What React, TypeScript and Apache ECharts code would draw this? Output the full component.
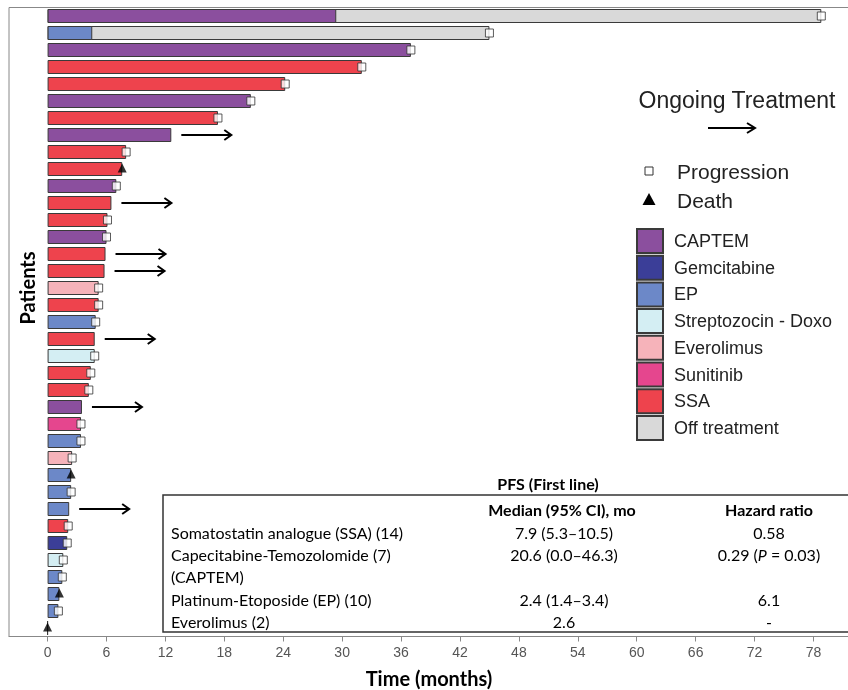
import React, { useEffect, useRef } from "react";
import * as echarts from "echarts";

// ---- data (one entry per patient, top to bottom) ----
const patients = Array.from({ length: 37 }, (_, i) => `P${i + 1}`);
const treatments = [
  "CAPTEM", "EP", "CAPTEM", "SSA", "SSA", "CAPTEM", "SSA", "CAPTEM", "SSA", "SSA",
  "CAPTEM", "SSA", "SSA", "CAPTEM", "SSA", "SSA", "Everolimus", "SSA", "EP", "SSA",
  "Streptozocin - Doxo", "SSA", "SSA", "CAPTEM", "Sunitinib", "EP", "Everolimus", "EP", "EP", "EP",
  "SSA", "Gemcitabine", "Streptozocin - Doxo", "EP", "EP", "EP", "EP",
];
const treatmentEnd = [
  29.4, 4.55, 37.0, 32.0, 24.2, 20.7, 17.35, 12.6, 8.0, 7.6,
  7.0, 6.5, 6.1, 6.0, 5.9, 5.8, 5.2, 5.2, 4.9, 4.8,
  4.8, 4.4, 4.2, 3.5, 3.4, 3.4, 2.5, 2.4, 2.4, 2.2,
  2.1, 2.0, 1.6, 1.5, 1.2, 1.1, 0,
];
const offTreatmentEnd: (number | null)[] = [
  78.8, 45.0, null, null, null, null, null, null, null, null,
  null, null, null, null, null, null, null, null, null, null,
  null, null, null, null, null, null, null, null, null, null,
  null, null, null, null, null, null, null,
];
// P = progression, D = death, O = ongoing treatment
const outcomes = [
  "P", "P", "P", "P", "P", "P", "P", "O", "P", "D",
  "P", "O", "P", "P", "O", "O", "P", "P", "P", "O",
  "P", "P", "P", "O", "P", "P", "P", "D", "P", "O",
  "P", "P", "P", "P", "D", "P", "D",
];
const legendNames = [
  "CAPTEM", "Gemcitabine", "EP", "Streptozocin - Doxo", "Everolimus", "Sunitinib", "SSA", "Off treatment",
];
const legendColors = [
  "#8B4F9E", "#3B3E98", "#6C88C8", "#D4EEF3", "#F6B3BA", "#E5468E", "#EE434D", "#D9D9D9",
];
const tickValues = [0, 6, 12, 18, 24, 30, 36, 42, 48, 54, 60, 66, 72, 78];

const tableTitle = "PFS (First line)";
const tableHeaders = ["Median (95% CI), mo", "Hazard ratio"];
const tableNames = [
  "Somatostatin analogue (SSA) (14)",
  "Capecitabine-Temozolomide (7)\n(CAPTEM)",
  "Platinum-Etoposide (EP) (10)",
  "Everolimus (2)",
];
const tableMedians = ["7.9 (5.3–10.5)", "20.6 (0.0–46.3)", "2.4 (1.4–3.4)", "2.6"];
const tableHazards = ["0.58", "{n|0.29 (}{i|P}{n| = 0.03)}", "6.1", "-"];

const BORDER = "#3a3a3a";
const TXT = "#222";

export default function App() {
  const ref = useRef<HTMLDivElement>(null);
  useEffect(() => {
    if (!ref.current) return;
    const chart = echarts.init(ref.current, null, { renderer: "svg" });

    const eventTime = treatmentEnd.map((v, i) => (offTreatmentEnd[i] != null ? (offTreatmentEnd[i] as number) : v));

    const barCommon = {
      type: "bar",
      barWidth: 14,
      barGap: "-100%",
      itemStyle: { borderColor: BORDER, borderWidth: 1 },
      emphasis: { disabled: true },
    };

    const series: any[] = [];
    series.push({
      ...barCommon,
      name: "Off treatment",
      itemStyle: { ...barCommon.itemStyle, color: legendColors[7] },
      data: offTreatmentEnd.map((v) => (v == null ? "-" : v)),
    });
    legendNames.slice(0, 7).forEach((name, k) => {
      series.push({
        ...barCommon,
        name,
        itemStyle: { ...barCommon.itemStyle, color: legendColors[k] },
        data: treatments.map((t, i) => (t === name ? treatmentEnd[i] : "-")),
      });
    });
    series.push({
      type: "scatter",
      name: "Progression",
      symbol: "rect",
      symbolSize: 8,
      itemStyle: { color: "#fff", borderColor: "#333", borderWidth: 1 },
      z: 5,
      data: outcomes.map((o, i) => (o === "P" ? [eventTime[i], i] : null)).filter(Boolean),
    });
    series.push({
      type: "scatter",
      name: "Death",
      symbol: "triangle",
      symbolSize: [9, 9],
      symbolOffset: [0, -1],
      itemStyle: { color: "#000" },
      z: 5,
      data: outcomes.map((o, i) => (o === "D" ? [eventTime[i], i] : null)).filter(Boolean),
    });
    series.push({
      type: "custom",
      name: "Ongoing",
      z: 5,
      encode: { x: 0, y: 1 },
      data: outcomes.map((o, i) => (o === "O" ? [eventTime[i], i] : null)).filter(Boolean),
      renderItem: (params: any, api: any) => {
        const p = api.coord([api.value(0), api.value(1)]);
        const x1 = p[0] + 10;
        const x2 = p[0] + 60;
        const y = p[1];
        return {
          type: "group",
          children: [
            { type: "line", shape: { x1, y1: y, x2: x2 - 1, y2: y }, style: { stroke: "#000", lineWidth: 2 } },
            {
              type: "polyline",
              shape: { points: [[x2 - 7, y - 5], [x2, y], [x2 - 7, y + 5]] },
              style: { stroke: "#000", lineWidth: 2, fill: null },
            },
          ],
        };
      },
    });

    const tableFont = "Lato, 'Open Sans', sans-serif";
    const TF = 16;
    const graphic: any[] = [
      {
        type: "text",
        x: 27,
        y: 288,
        rotation: Math.PI / 2,
        style: { text: "Patients", font: "bold 20px Lato, sans-serif", fill: "#000", align: "center", verticalAlign: "middle" },
      },
      {
        type: "text",
        x: 737,
        y: 100,
        style: { text: "Ongoing Treatment", font: "23px 'Liberation Sans', Arial, sans-serif", fill: TXT, align: "center", verticalAlign: "middle" },
      },
      { type: "line", shape: { x1: 708, y1: 128, x2: 754, y2: 128 }, style: { stroke: "#000", lineWidth: 2 } },
      { type: "polyline", shape: { points: [[747, 123], [755, 128], [747, 133]] }, style: { stroke: "#000", lineWidth: 2, fill: null } },
      { type: "rect", shape: { x: 645, y: 167, width: 8, height: 8 }, style: { fill: "#fff", stroke: "#333", lineWidth: 1 } },
      {
        type: "text",
        x: 677,
        y: 171,
        style: { text: "Progression", font: "21px 'Liberation Sans', Arial, sans-serif", fill: TXT, verticalAlign: "middle" },
      },
      { type: "polygon", shape: { points: [[649, 193], [655.5, 205], [642.5, 205]] }, style: { fill: "#000" } },
      {
        type: "text",
        x: 677,
        y: 200,
        style: { text: "Death", font: "21px 'Liberation Sans', Arial, sans-serif", fill: TXT, verticalAlign: "middle" },
      },
      { type: "rect", shape: { x: 163, y: 495, width: 700, height: 137 }, style: { fill: "none", stroke: "#333", lineWidth: 1.5 } },
      {
        type: "text",
        x: 548,
        y: 483,
        style: { text: tableTitle, font: `bold ${TF}px ${tableFont}`, fill: "#000", align: "center", verticalAlign: "middle" },
      },
      {
        type: "text",
        x: 562,
        y: 509,
        style: { text: tableHeaders[0], font: `bold ${TF}px ${tableFont}`, fill: "#000", align: "center", verticalAlign: "middle" },
      },
      {
        type: "text",
        x: 769,
        y: 509,
        style: { text: tableHeaders[1], font: `bold ${TF}px ${tableFont}`, fill: "#000", align: "center", verticalAlign: "middle" },
      },
    ];
    const rowY = [532, 554, 599, 621];
    tableNames.forEach((name, i) => {
      graphic.push({
        type: "text",
        x: 171,
        y: rowY[i] - 11,
        style: { text: name, font: `${TF}px ${tableFont}`, fill: "#000", verticalAlign: "top", lineHeight: 22 },
      });
      graphic.push({
        type: "text",
        x: 564,
        y: rowY[i],
        style: { text: tableMedians[i], font: `${TF}px ${tableFont}`, fill: "#000", align: "center", verticalAlign: "middle" },
      });
      graphic.push({
        type: "text",
        x: 769,
        y: rowY[i],
        style: {
          text: tableHazards[i],
          font: `${TF}px ${tableFont}`,
          fill: "#000",
          align: "center",
          verticalAlign: "middle",
          rich: {
            n: { fontFamily: tableFont, fontSize: TF, fill: "#000" },
            i: { fontFamily: tableFont, fontSize: TF, fontStyle: "italic", fill: "#000" },
          },
        },
      });
    });

    chart.setOption({
      animation: false,
      grid: {
        left: 9,
        right: -1,
        top: 7.5,
        bottom: 53.5,
        outerBoundsMode: "none",
        containLabel: false,
        show: true,
        borderColor: "#888",
        borderWidth: 1,
        backgroundColor: "transparent",
      },
      legend: {
        orient: "vertical",
        left: 636,
        top: 228,
        padding: 0,
        itemWidth: 26,
        itemHeight: 24,
        itemGap: 0.7,
        icon: "rect",
        selectedMode: false,
        data: legendNames,
        textStyle: { fontSize: 18, fontFamily: "'Liberation Sans', Arial, sans-serif", color: TXT, padding: [0, 0, 0, 6] },
      },
      xAxis: {
        type: "value",
        min: -3.93,
        max: 81.62,
        name: "Time (months)",
        nameLocation: "middle",
        nameGap: 31,
        nameTextStyle: { fontSize: 20, fontWeight: "bold", fontFamily: "Lato, sans-serif", color: "#000" },
        axisLine: { show: true, lineStyle: { color: "#888", width: 1 } },
        axisTick: { show: true, customValues: tickValues, length: 5, lineStyle: { color: "#888" } },
        axisLabel: {
          customValues: tickValues,
          color: "#555",
          fontSize: 14,
          margin: 8,
          fontFamily: "'Liberation Sans Narrow', 'Liberation Sans', Arial, sans-serif",
        },
        splitLine: { show: false },
      },
      yAxis: {
        type: "category",
        inverse: true,
        data: patients,
        axisLine: { show: false },
        axisTick: { show: false },
        axisLabel: { show: false },
        splitLine: { show: false },
      },
      series,
      graphic,
    });
    return () => chart.dispose();
  }, []);
  return <div ref={ref} style={{ position: "fixed", left: 0, top: 0, width: 848, height: 690 }} />;
}
